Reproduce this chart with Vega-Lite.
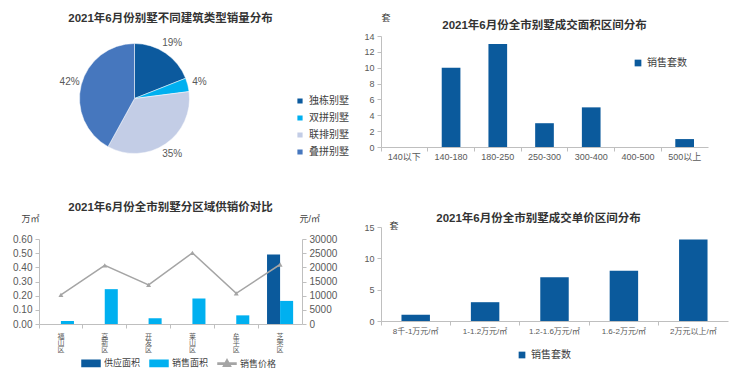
{
 "$schema": "https://vega.github.io/schema/vega-lite/v6.json",
 "background": "white",
 "padding": {"left": 12, "top": 12, "right": 5, "bottom": 5},
 "config": {
  "font": "Liberation Sans, Noto Sans CJK SC",
  "view": {"stroke": null},
  "axis": {"grid": false, "domainColor": "#bfbfbf", "tickColor": "#bfbfbf", "labelColor": "#595959", "labelFontSize": 9, "titleColor": "#404040", "titleFontWeight": "normal", "titleFontSize": 9, "tickSize": 4, "labelPadding": 3},
  "legend": {"labelColor": "#404040", "labelFontSize": 10, "title": null},
  "title": {"fontSize": 11.5, "fontWeight": "bold", "color": "#333333", "font": "Liberation Sans, Noto Sans CJK SC"}
 },
 "spacing": 14,
 "resolve": {"scale": {"color": "independent"}, "legend": {"color": "independent"}},
 "hconcat": [
  {
   "bounds": "flush",
   "spacing": 78,
   "resolve": {"scale": {"color": "independent"}, "legend": {"color": "independent"}},
   "vconcat": [
    {
     "width": 191,
     "height": 125,
     "title": {"text": "2021年6月份别墅不同建筑类型销量分布", "dx": 36, "offset": 12},
     "data": {"values": [
      {"type": "独栋别墅", "pct": 19, "label": "19%", "i": 1},
      {"type": "双拼别墅", "pct": 4, "label": "4%", "i": 2},
      {"type": "联排别墅", "pct": 35, "label": "35%", "i": 3},
      {"type": "叠拼别墅", "pct": 42, "label": "42%", "i": 4}
     ]},
     "encoding": {
      "theta": {"field": "pct", "type": "quantitative", "stack": true},
      "order": {"field": "i", "type": "quantitative"}
     },
     "layer": [
      {
       "mark": {"type": "arc", "outerRadius": 55, "stroke": "white", "strokeWidth": 0.5},
       "encoding": {
        "color": {"field": "type", "type": "nominal", "sort": null,
         "scale": {"domain": ["独栋别墅", "双拼别墅", "联排别墅", "叠拼别墅"], "range": ["#0c5a9e", "#00b0f0", "#c3cde6", "#4677be"]},
         "legend": {"orient": "none", "legendX": 256, "legendY": 60, "symbolType": "square", "symbolSize": 45, "rowPadding": 3, "labelFontSize": 10, "labelOffset": 4}}
       }
      },
      {
       "mark": {"type": "text", "radius": 67, "fontSize": 10, "color": "#595959"},
       "encoding": {"text": {"field": "label"}}
      }
     ]
    },
    {
     "width": 263,
     "height": 85,
     "title": {"text": "2021年6月份全市别墅分区域供销价对比", "offset": 10, "dy": 9},
     "layer": [
      {
       "data": {"values": [
        {"d": "福山区", "s": "供应面积", "v": 0},
        {"d": "福山区", "s": "销售面积", "v": 0.021},
        {"d": "高新区", "s": "供应面积", "v": 0},
        {"d": "高新区", "s": "销售面积", "v": 0.246},
        {"d": "开发区", "s": "供应面积", "v": 0},
        {"d": "开发区", "s": "销售面积", "v": 0.04},
        {"d": "莱山区", "s": "供应面积", "v": 0},
        {"d": "莱山区", "s": "销售面积", "v": 0.18},
        {"d": "牟平区", "s": "供应面积", "v": 0},
        {"d": "牟平区", "s": "销售面积", "v": 0.061},
        {"d": "芝罘区", "s": "供应面积", "v": 0.49},
        {"d": "芝罘区", "s": "销售面积", "v": 0.163}
       ]},
       "mark": {"type": "bar"},
       "encoding": {
        "x": {"field": "d", "type": "nominal", "sort": null, "scale": {"paddingInner": 0, "paddingOuter": 0},
         "axis": {"title": null, "labelAngle": 0, "bandPosition": 0, "labelExpr": "split(datum.label, '')", "labelFontSize": 7, "labelLineHeight": 6.5, "labelBaseline": "top", "labelPadding": 4}},
        "xOffset": {"field": "s", "type": "nominal", "sort": null, "scale": {"domain": ["供应面积", "销售面积"], "paddingInner": 0, "paddingOuter": 0.68}},
        "y": {"field": "v", "type": "quantitative", "scale": {"domain": [0, 0.6]},
         "axis": {"values": [0, 0.1, 0.2, 0.3, 0.4, 0.5, 0.6], "format": ".2f", "labelFontSize": 10, "title": "万㎡", "titleAngle": 0, "titleAlign": "left", "titleBaseline": "middle", "titleX": -18, "titleY": -21}},
        "color": {"field": "s", "type": "nominal",
         "scale": {"domain": ["供应面积", "销售面积", "销售价格"], "range": ["#0b5a9c", "#00b0f0", "#a5a5a5"]},
         "legend": {"orient": "none", "direction": "horizontal", "legendX": 42, "legendY": 114, "symbolSize": 324, "labelFontSize": 9, "columnPadding": 6, "labelOffset": 3,
          "encode": {"symbols": {"update": {"shape": {"signal": "datum.value === '销售价格' ? 'M-1,-0.06H1V0.06H-1Z M0,-0.45L0.4,0.3L-0.4,0.3Z' : 'M-1,-0.36H1V0.36H-1Z'"}}}}}}
       }
      },
      {
       "data": {"values": [
        {"d": "福山区", "p": 10300},
        {"d": "高新区", "p": 20700},
        {"d": "开发区", "p": 13800},
        {"d": "莱山区", "p": 25100},
        {"d": "牟平区", "p": 10800},
        {"d": "芝罘区", "p": 21000}
       ]},
       "mark": {"type": "line", "strokeWidth": 1.5, "point": {"shape": "triangle-up", "size": 25, "filled": true}},
       "encoding": {
        "x": {"field": "d", "type": "nominal", "sort": null},
        "y": {"field": "p", "type": "quantitative", "scale": {"domain": [0, 30000]},
         "axis": {"orient": "right", "values": [0, 5000, 10000, 15000, 20000, 25000, 30000], "format": "d", "labelFontSize": 10, "title": "元/㎡", "titleAngle": 0, "titleAlign": "left", "titleBaseline": "middle", "titleX": -3, "titleY": -21}},
        "color": {"datum": "销售价格"}
       }
      }
     ],
     "resolve": {"scale": {"y": "independent"}}
    }
   ]
  },
  {
   "bounds": "flush",
   "spacing": 80,
   "resolve": {"scale": {"color": "independent"}, "legend": {"color": "independent"}},
   "vconcat": [
    {
     "width": 327,
     "height": 111,
     "title": {"text": "2021年6月份全市别墅成交面积区间分布", "offset": 4, "dy": 22},
     "data": {"values": [
      {"r": "140以下", "n": 0},
      {"r": "140-180", "n": 10},
      {"r": "180-250", "n": 13},
      {"r": "250-300", "n": 3},
      {"r": "300-400", "n": 5},
      {"r": "400-500", "n": 0},
      {"r": "500以上", "n": 1}
     ]},
     "mark": {"type": "bar", "width": {"band": 0.4}},
     "encoding": {
      "x": {"field": "r", "type": "nominal", "sort": null, "scale": {"paddingInner": 0, "paddingOuter": 0},
       "axis": {"title": null, "labelAngle": 0, "bandPosition": 0, "labelPadding": 1}},
      "y": {"field": "n", "type": "quantitative", "scale": {"domain": [0, 14]},
       "axis": {"values": [0, 2, 4, 6, 8, 10, 12, 14], "title": "套", "titleAngle": 0, "titleAlign": "left", "titleBaseline": "middle", "titleX": 0, "titleY": -19}},
      "color": {"datum": "销售套数", "type": "nominal", "scale": {"range": ["#0b5a9c"]},
       "legend": {"orient": "none", "legendX": 252, "legendY": 22, "symbolType": "square", "symbolSize": 45, "labelFontSize": 10, "labelOffset": 4}}
     }
    },
    {
     "width": 347,
     "height": 94,
     "title": {"text": "2021年6月份全市别墅成交单价区间分布", "dx": -16, "offset": 2, "dy": 5},
     "data": {"values": [
      {"r": "8千-1万元/㎡", "n": 1},
      {"r": "1-1.2万元/㎡", "n": 3},
      {"r": "1.2-1.6万元/㎡", "n": 7},
      {"r": "1.6-2万元/㎡", "n": 8},
      {"r": "2万元以上/㎡", "n": 13}
     ]},
     "mark": {"type": "bar", "width": {"band": 0.41}},
     "encoding": {
      "x": {"field": "r", "type": "nominal", "sort": null, "scale": {"paddingInner": 0, "paddingOuter": 0},
       "axis": {"title": null, "labelAngle": 0, "bandPosition": 0, "labelFontSize": 8, "labelPadding": 2}},
      "y": {"field": "n", "type": "quantitative", "scale": {"domain": [0, 15]},
       "axis": {"values": [0, 5, 10, 15], "title": "套", "titleAngle": 0, "titleAlign": "left", "titleBaseline": "middle", "titleX": 8, "titleY": -2}},
      "color": {"datum": "销售套数", "type": "nominal", "scale": {"range": ["#0b5a9c"]},
       "legend": {"orient": "none", "legendX": 136, "legendY": 123, "symbolType": "square", "symbolSize": 45, "labelFontSize": 10, "labelOffset": 4}}
     }
    }
   ]
  }
 ]
}
